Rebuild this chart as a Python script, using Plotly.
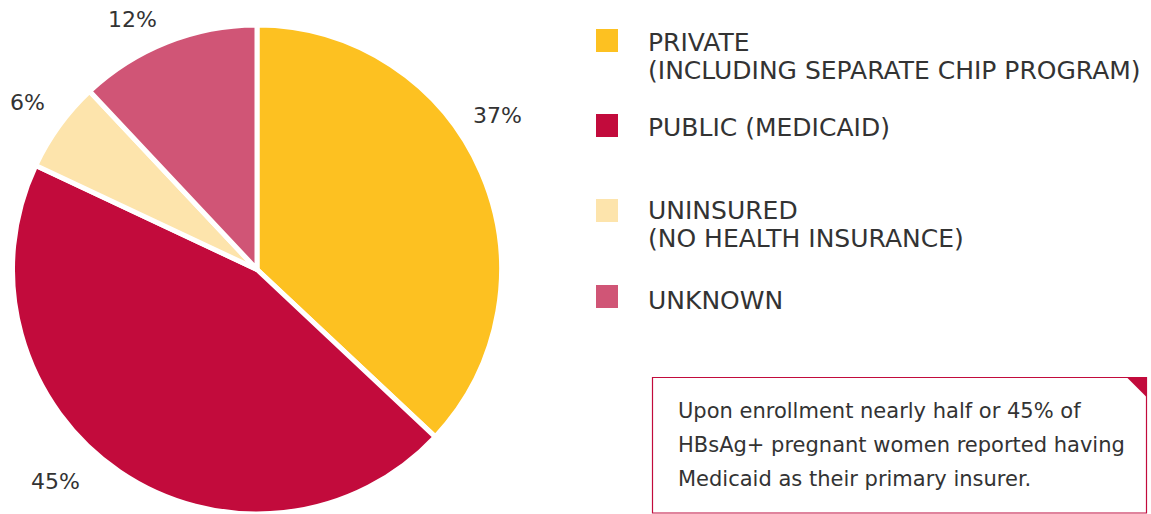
import plotly.graph_objects as go

# Insurance status at enrollment
categories = ["Private", "Public (Medicaid)", "Uninsured", "Unknown"]
shares = [37, 45, 6, 12]
colors = ["#FDC121", "#C20B3C", "#FDE4AC", "#D05576"]

legend_lines = [
    ["PRIVATE", "(INCLUDING SEPARATE CHIP PROGRAM)"],
    ["PUBLIC (MEDICAID)"],
    ["UNINSURED", "(NO HEALTH INSURANCE)"],
    ["UNKNOWN"],
]

callout_lines = [
    "Upon enrollment nearly half or 45% of",
    "HBsAg+ pregnant women reported having",
    "Medicaid as their primary insurer.",
]

W, H = 1151, 514
FONT = "DejaVu Sans"
TEXT_COLOR = "#333333"
ACCENT = "#C20B3C"


def px_x(x):
    return x / W


def px_y(y):
    return 1 - y / H


# pie geometry in pixels
cx, r = 257, 244.5

fig = go.Figure()
fig.add_trace(go.Pie(
    labels=categories,
    values=shares,
    sort=False,
    direction="clockwise",
    rotation=0,
    marker=dict(colors=colors, line=dict(color="white", width=5)),
    textinfo="none",
    hoverinfo="label+percent",
    showlegend=False,
    domain=dict(x=[px_x(cx - r), px_x(cx + r)], y=[0, (2 * r) / H]),
))

annotations = []

# percentage labels outside the slices
label_pos = [(497, 116), (55, 481), (27, 103), (132, 20)]
for v, (px, py) in zip(shares, label_pos):
    annotations.append(dict(
        x=px_x(px), y=px_y(py), xref="paper", yref="paper",
        text=f"{v}%", showarrow=False, xanchor="center", yanchor="middle",
        font=dict(family=FONT, size=22, color=TEXT_COLOR),
    ))

# custom legend: swatches and labels
shapes = []
swatch_tops = [29, 114, 199, 285]
line_mids = [[41, 70], [126.5], [209, 237.5], [299]]
for col, lines, st, mids in zip(colors, legend_lines, swatch_tops, line_mids):
    shapes.append(dict(
        type="rect", xref="paper", yref="paper",
        x0=px_x(596), x1=px_x(618), y0=px_y(st + 23), y1=px_y(st),
        fillcolor=col, line=dict(width=0),
    ))
    for txt, ym in zip(lines, mids):
        annotations.append(dict(
            x=px_x(646), y=px_y(ym + 1), xref="paper", yref="paper",
            text=txt, showarrow=False, xanchor="left", yanchor="middle",
            font=dict(family=FONT, size=25, color=TEXT_COLOR),
        ))

# callout box with corner triangle
bx0, by0, bx1, by1 = 652.5, 377.5, 1146.5, 513
shapes.append(dict(
    type="rect", xref="paper", yref="paper",
    x0=px_x(bx0), x1=px_x(bx1), y0=px_y(by1), y1=px_y(by0),
    line=dict(color=ACCENT, width=1.2), fillcolor="rgba(0,0,0,0)",
))
tri = (f"M {px_x(1127)} {px_y(by0)} L {px_x(bx1)} {px_y(by0)} "
       f"L {px_x(bx1)} {px_y(397)} Z")
shapes.append(dict(
    type="path", xref="paper", yref="paper", path=tri,
    fillcolor=ACCENT, line=dict(width=0),
))
for txt, ym in zip(callout_lines, [410, 444, 478]):
    annotations.append(dict(
        x=px_x(676), y=px_y(ym + 1), xref="paper", yref="paper",
        text=txt, showarrow=False, xanchor="left", yanchor="middle",
        font=dict(family=FONT, size=21, color=TEXT_COLOR),
    ))

fig.update_layout(
    width=W, height=H,
    margin=dict(l=0, r=0, t=0, b=0),
    paper_bgcolor="white", plot_bgcolor="white",
    shapes=shapes, annotations=annotations,
)

fig.write_html("out.html", config={"displayModeBar": False})
